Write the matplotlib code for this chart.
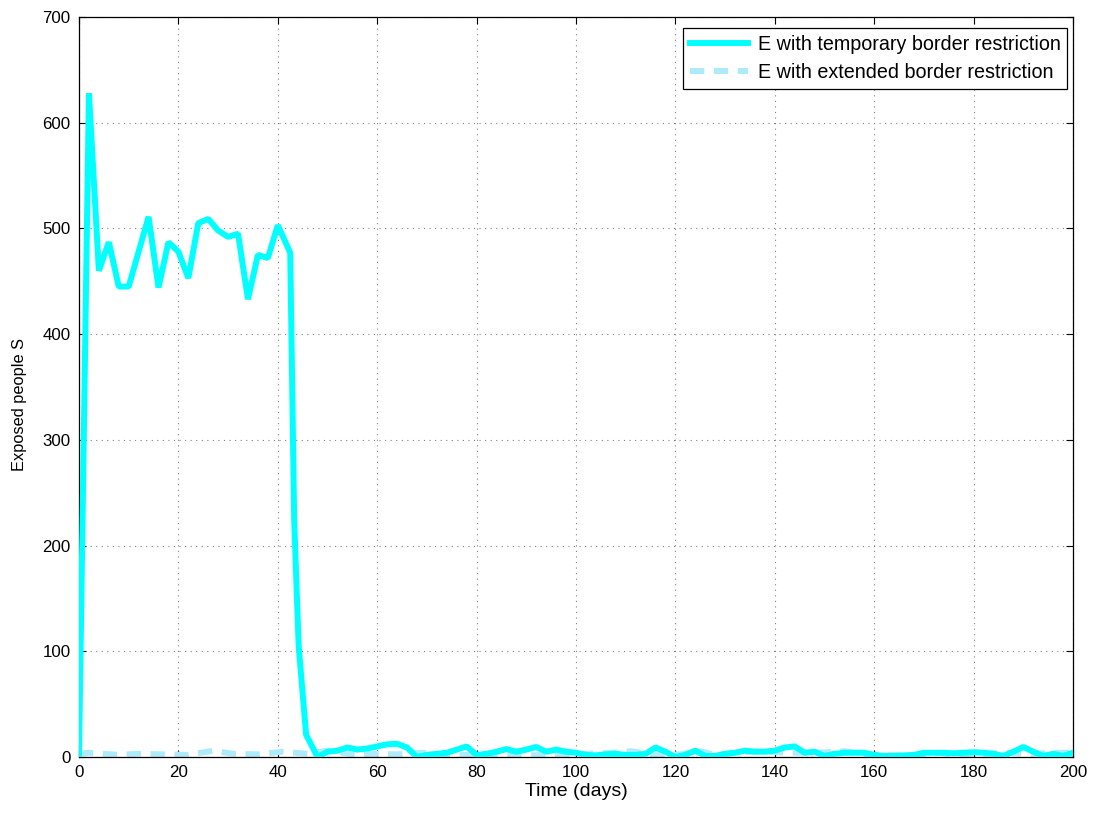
import matplotlib
matplotlib.use("Agg")
import matplotlib.pyplot as plt

plt.rcParams['font.family'] = ['Liberation Sans', 'DejaVu Sans']

t_temp = [0, 2, 4, 6, 8, 10, 12, 14, 16, 18, 20, 22, 24, 26, 28, 30, 32, 34, 36, 38, 40,
          42.5, 43.3, 44.2, 45.7, 48, 50, 52, 54, 56, 58, 60, 62, 64, 66, 68, 70, 72, 74, 76,
          78, 80, 82, 84, 86, 88, 90, 92, 94, 96, 98, 100, 102, 104, 106, 108, 110, 112, 114,
          116, 118, 120, 122, 124, 126, 128, 130, 132, 134, 136, 138, 140, 142, 144, 146, 148,
          150, 152, 154, 156, 158, 160, 162, 164, 166, 168, 170, 172, 174, 176, 178, 180, 182,
          184, 186, 188, 190, 192, 194, 196, 198, 200]
e_temp = [0, 628, 460, 487, 445, 445, 478, 511, 444, 487, 478, 453, 505, 509, 498, 492, 495,
          433, 475, 472, 503,
          477, 224, 105, 21, 0, 5, 6, 9, 7, 8, 10, 12, 12.5, 9, 0, 2, 3, 4, 7,
          10, 2, 3, 5, 7.5, 5, 7, 9.5, 5, 7, 5, 4, 2, 1.5, 2.5, 3, 2, 2, 3,
          9, 5, 0, 2, 6, 1, 1, 3, 4, 6, 5, 5, 6, 9, 10, 4, 5,
          1, 3, 4, 4, 4, 2, 1, 1, 1.5, 2, 4, 4, 4, 3.5, 4, 4.5, 4,
          3, 1, 5, 9.5, 5, 1, 3, 1, 4]

t_ext = [0, 2, 5, 8, 12, 17, 22, 27, 31, 36, 41, 46, 50, 55, 60, 64, 69, 74, 79, 83, 88, 93,
         97, 102, 107, 111, 116, 121, 125, 128, 132, 137, 142, 145, 150, 154, 159, 163, 168,
         173, 177, 182, 187, 192, 195, 200]
e_ext = [3, 4, 3, 2, 3, 2.5, 2, 6, 3, 2.5, 5, 3, 6, 2.5, 3, 2.5, 4, 2, 2, 2.5, 1, 2,
         2, 3, 4, 5.5, 2, 2.5, 5.5, 2, 4, 5.5, 4, 4, 4.4, 5.5, 2, 2, 1.3,
         4, 2, 3, 4, 3, 4, 4]

x_ticks = [0, 20, 40, 60, 80, 100, 120, 140, 160, 180, 200]
y_ticks = [0, 100, 200, 300, 400, 500, 600, 700]

fig = plt.figure(figsize=(11.03, 8.14), dpi=100)
ax = fig.add_axes([79 / 1103, 1 - 757 / 814, 994 / 1103, 740 / 814])

ax.plot(t_temp, e_temp, color='#00FFFF', lw=4.3, solid_joinstyle='bevel',
        label='E with temporary border restriction', zorder=3)
ax.plot(t_ext, e_ext, color='#ADEBFA', lw=4.3, dashes=[2.4, 1.6],
        label='E with extended border restriction', zorder=2)

ax.set_xlim(0, 200)
ax.set_ylim(0, 700)
ax.set_xticks(x_ticks)
ax.set_yticks(y_ticks)
ax.tick_params(direction='in', top=True, right=True, labelsize=12.2, length=5, width=0.8,
               pad=6)
ax.grid(True, color='#808080', linestyle=(0, (1, 4)), linewidth=0.8)
for s in ax.spines.values():
    s.set_linewidth(0.9)
    s.set_color('black')

ax.set_xlabel('Time (days)', fontsize=14, labelpad=2)
ax.set_ylabel('Exposed people S', fontsize=11.8)
ax.yaxis.set_label_coords(-0.0525, 0.477)

leg = ax.legend(loc='upper right', bbox_to_anchor=(0.9940, 0.9851), borderaxespad=0,
                fancybox=False, edgecolor='black', fontsize=14.2, handlelength=2.94,
                handletextpad=0.5, labelspacing=0.5, borderpad=0.33, framealpha=1)
leg.get_frame().set_linewidth(0.9)

fig.savefig('out.png', dpi=100)
